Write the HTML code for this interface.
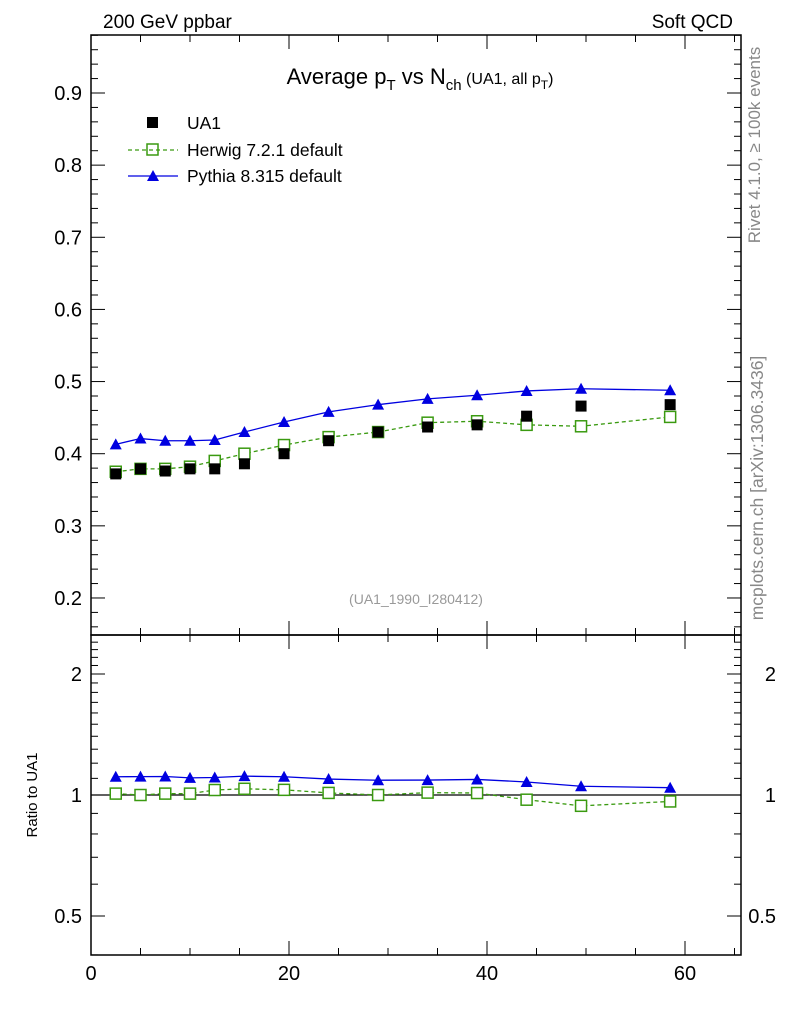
<!DOCTYPE html>
<html><head><meta charset="utf-8"><style>
body{margin:0;background:#fff;}
svg text{font-family:"Liberation Sans",sans-serif;}
</style></head><body>
<svg id="chart" width="786" height="1024" xmlns="http://www.w3.org/2000/svg">
<text x="103" y="28" font-size="19">200 GeV ppbar</text>
<text x="733" y="28" font-size="19" text-anchor="end">Soft QCD</text>
<text x="420" y="84" font-size="22" text-anchor="middle">Average p<tspan font-size="15" dy="6">T</tspan><tspan dy="-6"> vs N</tspan><tspan font-size="15" dy="6">ch</tspan><tspan font-size="16" dy="-6"> (UA1, all p</tspan><tspan font-size="12" dy="5">T</tspan><tspan font-size="16" dy="-5">)</tspan></text>
<text x="760" y="145" font-size="17" fill="#888" transform="rotate(-90 760 145)" text-anchor="middle">Rivet 4.1.0, ≥ 100k events</text>
<text x="763" y="488" font-size="17.5" fill="#888" transform="rotate(-90 763 488)" text-anchor="middle">mcplots.cern.ch [arXiv:1306.3436]</text>
<text x="416" y="604" font-size="14" fill="#999" text-anchor="middle">(UA1_1990_I280412)</text>
<text x="37" y="795" font-size="15" transform="rotate(-90 37 795)" text-anchor="middle">Ratio to UA1</text>
<g id="g"></g>
<g>
<rect x="147" y="117" width="11" height="11" fill="#000"/>
<text x="187" y="129" font-size="17.5">UA1</text>
<line x1="128" y1="150" x2="178" y2="150" stroke="#3a9a10" stroke-dasharray="4,3" stroke-width="1.3"/>
<rect x="147" y="144" width="11" height="11" fill="none" stroke="#3a9a10" stroke-width="1.5"/>
<text x="187" y="156" font-size="17.5">Herwig 7.2.1 default</text>
<line x1="128" y1="176" x2="178" y2="176" stroke="#0000e0" stroke-width="1.3"/>
<polygon points="153,170 159,181 147,181" fill="#0000e0"/>
<text x="187" y="182" font-size="17.5">Pythia 8.315 default</text>
</g>
</svg>
<script>
const nch=[2.5,5,7.5,10,12.5,15.5,19.5,24,29,34,39,44,49.5,58.5];
const ua1=[0.372,0.379,0.376,0.379,0.379,0.386,0.400,0.418,0.430,0.437,0.440,0.452,0.466,0.468];
const herwig=[0.375,0.379,0.379,0.382,0.390,0.400,0.412,0.423,0.430,0.443,0.445,0.440,0.438,0.451];
const pythia=[0.413,0.421,0.418,0.418,0.419,0.430,0.444,0.458,0.468,0.476,0.481,0.487,0.490,0.488];
const xTicks=[0,20,40,60];
const yTicks=[0.2,0.3,0.4,0.5,0.6,0.7,0.8,0.9];
const rTicks=[0.5,1,2];
const NS="http://www.w3.org/2000/svg";
const g=document.getElementById('g');
const L=91,R=741,T=35,M=635,B=955;
const X=v=>91+v*9.9;
const Y=v=>93+(0.9-v)*721.4;
const RY=v=>795-Math.log2(v)*121;
function el(t,a){const e=document.createElementNS(NS,t);for(const k in a)e.setAttribute(k,a[k]);g.appendChild(e);return e;}
let e;
e=el('rect',{x:L,y:T,width:R-L,height:M-T,fill:'none',stroke:'#000','stroke-width':1.5});


e=el('rect',{x:L,y:M,width:R-L,height:B-M,fill:'none',stroke:'#000','stroke-width':1.5});


for(let v=0;v<=65;v+=5){const maj=v%20===0;const x=X(v);
 for(const [y0,s] of [[M,-1],[B,-1],[T,1],[M,1]]){el('line',{x1:x,x2:x,y1:y0,y2:y0+s*(maj?14:7),stroke:'#000','stroke-width':1});}}
xTicks.forEach(v=>{e=el('text',{x:X(v),y:980,'font-size':20,'text-anchor':'middle'});e.textContent=v;

});
for(let i=8;i<=49;i++){const v=i/50;const y=Y(v);if(y<T||y>M)continue;const maj=i%5===0;
 el('line',{x1:L,x2:L+(maj?14:7),y1:y,y2:y,stroke:'#000'});el('line',{x1:R,x2:R-(maj?14:7),y1:y,y2:y,stroke:'#000'});}
yTicks.forEach(v=>{e=el('text',{x:82,y:Y(v)+7,'font-size':20,'text-anchor':'end'});e.textContent=v.toFixed(1);

});
[0.4,0.5,0.6,0.7,0.8,0.9,1,1.1,1.2,1.3,1.4,1.5,1.6,1.7,1.8,1.9,2,2.1,2.2,2.3,2.4].forEach(v=>{const y=RY(v);if(y<M||y>B)return;const maj=[0.5,1,2].includes(v);
 el('line',{x1:L,x2:L+(maj?14:7),y1:y,y2:y,stroke:'#000'});el('line',{x1:R,x2:R-(maj?14:7),y1:y,y2:y,stroke:'#000'});});
rTicks.forEach(v=>{e=el('text',{x:82,y:RY(v)+7,'font-size':20,'text-anchor':'end'});e.textContent=v;


e=el('text',{x:776,y:RY(v)+7,'font-size':20,'text-anchor':'end'});e.textContent=v;

});
e=el('line',{x1:L,x2:R,y1:RY(1),y2:RY(1),stroke:'#000','stroke-width':1.3});


function series(vals,yf,col,dash,marker,name){
 const pts=nch.map((n,i)=>X(n)+','+yf(vals[i])).join(' ');
 e=el('polyline',{points:pts,fill:'none',stroke:col,'stroke-width':1.3,'stroke-dasharray':dash||'none'});
 
 
 nch.forEach((n,i)=>{const x=X(n),y=yf(vals[i]);
  if(marker==='sq')e=el('rect',{x:x-5.5,y:y-5.5,width:11,height:11,fill:'#fff',stroke:col,'stroke-width':1.5});
  else e=el('polygon',{points:`${x},${y-6} ${x+6},${y+5} ${x-6},${y+5}`,fill:col});
  
  });
}
series(herwig,Y,'#3a9a10','4,3','sq','herwig');
series(pythia,Y,'#0000e0',null,'tri','pythia');
nch.forEach((n,i)=>{e=el('rect',{x:X(n)-5.5,y:Y(ua1[i])-5.5,width:11,height:11,fill:'#000'});

});
series(herwig.map((v,i)=>v/ua1[i]),RY,'#3a9a10','4,3','sq','herwig-ratio');
series(pythia.map((v,i)=>v/ua1[i]),RY,'#0000e0',null,'tri','pythia-ratio');
</script>
</body></html>
